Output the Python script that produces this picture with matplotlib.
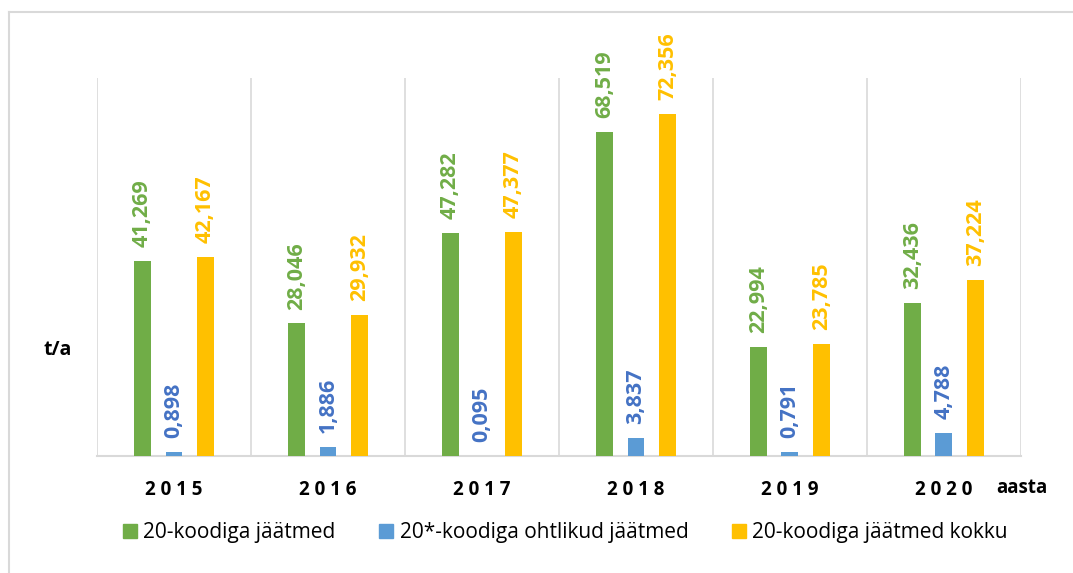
import matplotlib
matplotlib.use("Agg")
import matplotlib.pyplot as plt
import numpy as np
from matplotlib.lines import Line2D
from matplotlib.patches import Patch

# data
years = ['2015', '2016', '2017', '2018', '2019', '2020']
jaatmed = [41.269, 28.046, 47.282, 68.519, 22.994, 32.436]
ohtlikud = [0.898, 1.886, 0.095, 3.837, 0.791, 4.788]
kokku = [42.167, 29.932, 47.377, 72.356, 23.785, 37.224]

series_names = ['20-koodiga jäätmed', '20*-koodiga ohtlikud jäätmed', '20-koodiga jäätmed kokku']
bar_colors = ['#70AD47', '#5B9BD5', '#FFC000']
label_colors = ['#70AD47', '#4472C4', '#FFC000']

plt.rcParams['font.family'] = ['Open Sans', 'DejaVu Sans']

fig = plt.figure(figsize=(10.73, 5.73), dpi=100)
ax = fig.add_axes([0.0904, 0.2042, 0.8611, 0.6597])

x = np.arange(len(years))
width = 0.11
offset = 0.205
for i, vals in enumerate([jaatmed, ohtlikud, kokku]):
    bars = ax.bar(x + (i - 1) * offset, vals, width, color=bar_colors[i], zorder=3)
    # value labels, rotated like in the original
    for bar, v in zip(bars, vals):
        ax.annotate(f"{v:.3f}".replace('.', ','),
                    (bar.get_x() + bar.get_width() / 2, bar.get_height()),
                    xytext=(0, 10), textcoords='offset points',
                    rotation=90, ha='center', va='bottom',
                    fontsize=15.5, fontweight='bold', color=label_colors[i])

ax.set_xlim(-0.5, len(years) - 0.5)
ax.set_ylim(0, 80)
ax.set_yticks([])
ax.set_xticks(x)
ax.set_xticklabels([' '.join(y) for y in years], fontsize=13.5, fontweight='bold')
ax.tick_params(axis='x', length=0, pad=17)

# category separators
for b in np.arange(-0.5, len(years), 1):
    ax.axvline(b, color='#D9D9D9', lw=1.2, zorder=1)
for s in ['top', 'left', 'right']:
    ax.spines[s].set_visible(False)
ax.spines['bottom'].set_color('#D9D9D9')
ax.spines['bottom'].set_linewidth(1.5)

fig.text(0.0536, 0.389, 't/a', fontsize=14, fontweight='bold', ha='center', va='center')
fig.text(0.952, 0.148, 'aasta', fontsize=13.5, fontweight='bold', ha='center', va='center')

handles = [Patch(color=c) for c in bar_colors]
fig.legend(handles, series_names, loc='center', bbox_to_anchor=(0.527, 0.07),
           ncol=3, frameon=False, fontsize=15, handlelength=0.67, handleheight=0.67,
           handletextpad=0.3, columnspacing=2.1)

# outer chart border (only top and left are visible in the crop)
fig.add_artist(Line2D([0.0085, 1.0], [0.979, 0.979], transform=fig.transFigure, color='#D9D9D9', lw=1.5))
fig.add_artist(Line2D([0.0085, 0.0085], [0.0, 0.979], transform=fig.transFigure, color='#D9D9D9', lw=1.5))

fig.savefig('out.png', dpi=100)
